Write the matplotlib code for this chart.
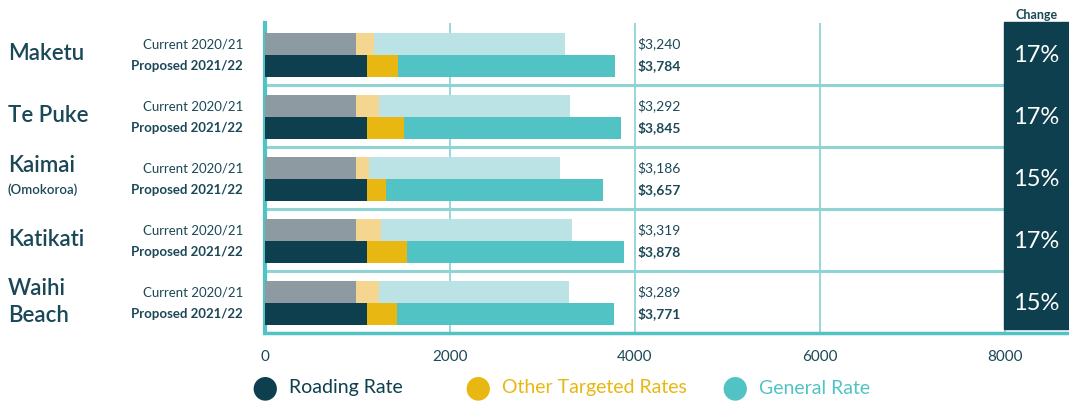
import numpy as np
import matplotlib.pyplot as plt
from matplotlib.patches import Rectangle

plt.rcParams['font.family'] = ['Lato', 'DejaVu Sans']

towns = ['Maketu', 'Te Puke', 'Kaimai', 'Katikati', 'Waihi\nBeach']
subnames = ['', '', '(Omokoroa)', '', '']
cur_roading = [985, 985, 985, 985, 985]
cur_other = [190, 248, 140, 270, 248]
cur_general = [2065, 2059, 2061, 2064, 2056]
cur_total = ['$3,240', '$3,292', '$3,186', '$3,319', '$3,289']
new_roading = [1103, 1103, 1103, 1103, 1103]
new_other = [335, 400, 205, 432, 324]
new_general = [2346, 2342, 2349, 2343, 2344]
new_total = ['$3,784', '$3,845', '$3,657', '$3,878', '$3,771']
change = ['17%', '17%', '15%', '17%', '15%']
ticks = [0, 2000, 4000, 6000, 8000]

DARK = '#0d3f4f'
YELLOW = '#e9b712'
TEAL = '#52c3c4'
GREY = '#8e9aa2'
BEIGE = '#f4d690'
LTEAL = '#bbe2e4'
TXT = '#1b4857'
LINE = '#8fd3d5'

fig = plt.figure(figsize=(10.69, 4.04), dpi=100)
ax = fig.add_axes([265 / 1069, 1 - 333 / 404, 804 / 1069, 310 / 404])
xmax = 804 / 0.0925
ax.set_xlim(0, xmax)
ax.set_ylim(5, 0)

n = len(towns)
yc = np.arange(n) + 0.34
yp = np.arange(n) + 0.69
h = 0.355
cr = np.array(cur_roading)
co = np.array(cur_other)
nr = np.array(new_roading)
no = np.array(new_other)
ax.barh(yc, cr, height=h, color=GREY, zorder=3)
ax.barh(yc, co, left=cr, height=h, color=BEIGE, zorder=3)
ax.barh(yc, cur_general, left=cr + co, height=h, color=LTEAL, zorder=3)
ax.barh(yp, nr, height=h, color=DARK, zorder=3)
ax.barh(yp, no, left=nr, height=h, color=YELLOW, zorder=3)
ax.barh(yp, new_general, left=nr + no, height=h, color=TEAL, zorder=3)

# grid
for t in ticks[1:]:
    ax.axvline(t, color=LINE, lw=1.3, zorder=1)
for i in range(1, n):
    ax.axhline(i, color=LINE, lw=2.2, zorder=1)

for s in ['top', 'right']:
    ax.spines[s].set_visible(False)
ax.spines['left'].set_color(TEAL)
ax.spines['left'].set_linewidth(3)
ax.spines['bottom'].set_color(TEAL)
ax.spines['bottom'].set_linewidth(2.5)
ax.set_yticks([])
ax.set_xticks(ticks)
ax.set_xticklabels([str(t) for t in ticks], color=TXT, fontsize=11)
ax.tick_params(axis='x', length=0, pad=12)

# change column
x0 = (1004 - 265) / 0.0925
ax.add_patch(Rectangle((x0, -0.02), xmax - x0, 4.96, color=DARK, zorder=4, clip_on=False))
ax.text((x0 + xmax) / 2, -0.04, 'Change', ha='center', va='bottom', fontsize=9,
        fontweight='bold', color=TXT)
for i in range(n):
    ax.text((x0 + xmax) / 2, i + 0.52, change[i], ha='center', va='center', fontsize=17,
            color='white', zorder=5)
    ax.text(4030, yc[i], cur_total[i], ha='left', va='center', fontsize=10, color=TXT, zorder=5)
    ax.text(4030, yp[i], new_total[i], ha='left', va='center', fontsize=10, color=TXT,
            fontweight='bold', zorder=5)

# left labels
for i in range(n):
    yf = 1 - (23 + 62 * (i + 0.5)) / 404
    if subnames[i]:
        fig.text(8 / 1069, yf + 0.03, towns[i], ha='left', va='center', fontsize=16,
                 color=TXT, fontweight='semibold')
        fig.text(8 / 1069, yf - 0.03, subnames[i], ha='left', va='center', fontsize=9.5,
                 color=TXT, fontweight='semibold')
    else:
        fig.text(8 / 1069, yf, towns[i], ha='left', va='center', fontsize=16,
                 color=TXT, fontweight='semibold', linespacing=1.3)
    fig.text(243 / 1069, 1 - (23 + 62 * yc[i]) / 404, 'Current 2020/21',
             ha='right', va='center', fontsize=9.5, color=TXT)
    fig.text(243 / 1069, 1 - (23 + 62 * yp[i]) / 404, 'Proposed 2021/22',
             ha='right', va='center', fontsize=9.5, color=TXT, fontweight='bold')

# legend
leg = [('Roading Rate', DARK, 265), ('Other Targeted Rates', YELLOW, 478), ('General Rate', TEAL, 735)]
for label, col, px in leg:
    fig.text(px / 1069, 1 - 388 / 404, '\u25CF', ha='center', va='center', fontsize=22,
             color=col, family='DejaVu Sans')
    fig.text((px + 24) / 1069, 1 - 388 / 404, label, ha='left', va='center', fontsize=14,
             color=col)

fig.savefig('out.png', dpi=100)
